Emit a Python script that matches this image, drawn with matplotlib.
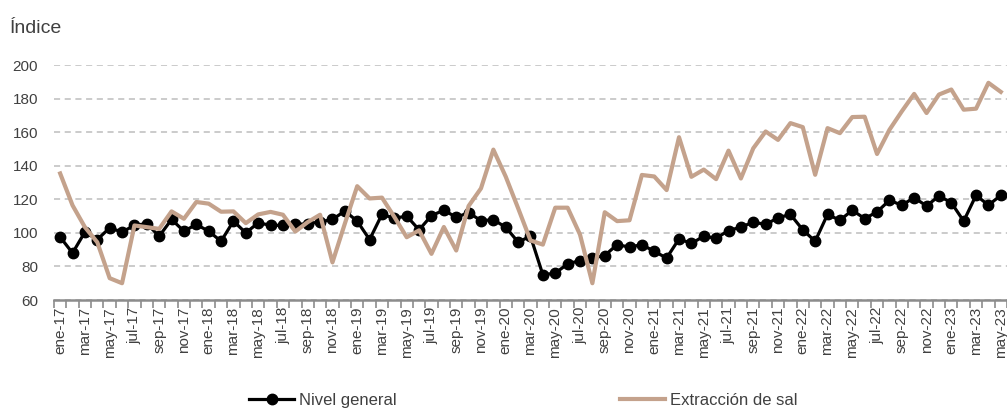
import numpy as np
import matplotlib
matplotlib.use('Agg')
import matplotlib.pyplot as plt

plt.rcParams['font.family'] = ['Liberation Sans', 'DejaVu Sans']

meses = ['ene', 'feb', 'mar', 'abr', 'may', 'jun', 'jul', 'ago', 'sep', 'oct', 'nov', 'dic']
fechas = []
for a in range(17, 24):
    for m in meses:
        fechas.append(m + '-' + str(a))
fechas = fechas[:77]  # ene-17 .. may-23

nivel_general = [97.5, 88, 100.5, 96, 103, 100.5, 104.5, 105.5, 98, 108, 101, 105,
                 101, 95, 107, 100, 106, 104.5, 104.5, 105, 105.5, 106.5, 108, 113,
                 107, 96, 111, 108.7, 110, 101.8, 110.3, 113.5, 109.3, 112, 107.3, 107.8,
                 103.4, 94.5, 98, 75, 76, 81.5, 83.5, 85, 86.5, 93, 91.5, 93,
                 89, 85, 96.4, 93.7, 98, 96.8, 101.4, 103.4, 106.4, 105, 109, 111,
                 101.8, 95, 111, 107.5, 113.5, 108.5, 112.5, 119.4, 116.5, 121, 116, 122,
                 118, 107, 122.4, 116.5, 122.4]

extraccion_sal = [135.4, 116.4, 103.4, 94.4, 73, 70, 104.4, 103.4, 102.4, 112.8, 108.4, 118.4,
                  117.4, 112.6, 112.8, 105.8, 111, 112.5, 110.8, 100.8, 106.4, 110.8, 82.4, 105.5,
                  127.8, 120.5, 121, 109.5, 97.4, 101.5, 87.5, 103.5, 89.5, 116, 126.5, 149.6,
                  133.5, 114.7, 95.5, 93, 115, 115, 99, 70, 112.3, 107, 107.5, 134.5,
                  133.6, 125.5, 157, 133.4, 137.7, 132, 149, 132.4, 150.4, 160.4, 155.4, 165.4,
                  163, 134.6, 162.4, 159.4, 169, 169.2, 147, 161.4, 172.4, 182.8, 171.4, 182.4,
                  185.4, 173.4, 174, 189.4, 184]

gris = '#404040'
x = np.arange(len(fechas))

fig = plt.figure(figsize=(10.07, 4.09), dpi=100)
ax = fig.add_axes([0.0536, 0.2665, 0.9464, 0.5745])

ax.plot(x, nivel_general, color='black', lw=2.3, marker='o', ms=7.5, label='Nivel general')
ax.plot(x, extraccion_sal, color='#c4a28c', lw=3, label='Extracción de sal')

ax.set_xlim(-0.5, len(fechas) - 0.5)
ax.set_ylim(60, 200)
ax.set_yticks(range(60, 201, 20))
ax.yaxis.grid(True, color='#bdbdbd', ls=(0, (4, 3)), lw=1.1)
ax.set_axisbelow(True)

for s in ['top', 'right', 'left']:
    ax.spines[s].set_visible(False)
ax.spines['bottom'].set_color('#8c8c8c')
ax.spines['bottom'].set_linewidth(1.8)

ax.set_xticks(x[::2])
ax.set_xticklabels(fechas[::2], rotation=90, fontsize=11, color=gris)
ax.set_xticks(np.arange(-0.5, len(fechas)), minor=True)
ax.tick_params(axis='x', which='major', length=0, pad=5)
ax.tick_params(axis='x', which='minor', length=6, color='#8c8c8c', width=1.2)
ax.tick_params(axis='y', length=0, pad=11.5, labelsize=11, labelcolor=gris)

fig.text(0.01, 0.93, 'Índice', fontsize=14, color=gris, va='center')

fig.legend(loc='center', bbox_to_anchor=(0.52, 0.02), ncol=2, frameon=False,
           fontsize=12, handlelength=2.7, columnspacing=13.4, labelcolor=gris,
           handletextpad=0.3)

fig.savefig('out.png', dpi=100)
